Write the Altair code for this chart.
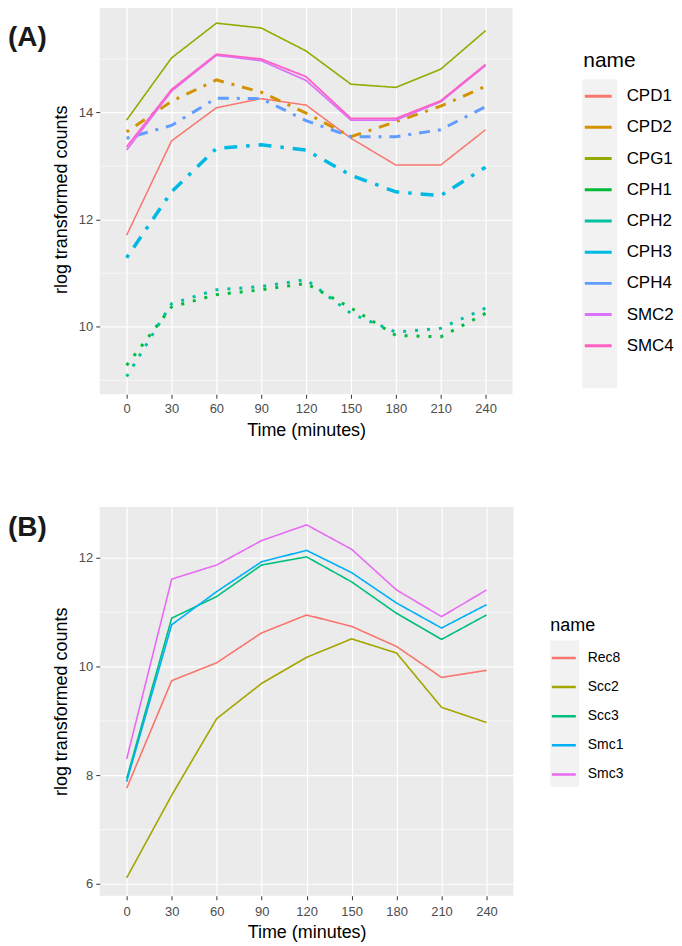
import altair as alt
import pandas as pd

# ---------------- data ----------------
times = [0, 30, 60, 90, 120, 150, 180, 210, 240]

names_a = ["CPD1", "CPD2", "CPG1", "CPH1", "CPH2", "CPH3", "CPH4", "SMC2", "SMC4"]
CPD1 = [11.71, 13.47, 14.09, 14.26, 14.14, 13.52, 13.02, 13.02, 13.68]
CPD2 = [13.64, 14.21, 14.61, 14.38, 13.99, 13.55, 13.83, 14.12, 14.49]
CPG1 = [13.86, 15.02, 15.67, 15.58, 15.15, 14.53, 14.47, 14.81, 15.53]
CPH1 = [9.28, 10.37, 10.60, 10.69, 10.81, 10.35, 9.84, 9.81, 10.25]
CPH2 = [9.07, 10.43, 10.69, 10.75, 10.88, 10.25, 9.90, 9.97, 10.35]
CPH3 = [11.29, 12.52, 13.33, 13.40, 13.30, 12.83, 12.52, 12.45, 12.98]
CPH4 = [13.52, 13.76, 14.27, 14.26, 13.85, 13.55, 13.55, 13.68, 14.11]
SMC2 = [13.30, 14.40, 15.07, 14.97, 14.60, 13.86, 13.86, 14.20, 14.88]
SMC4 = [13.36, 14.43, 15.09, 15.00, 14.67, 13.89, 13.89, 14.22, 14.90]
values_a = [CPD1, CPD2, CPG1, CPH1, CPH2, CPH3, CPH4, SMC2, SMC4]
colors_a = ["#F8766D", "#D39200", "#93AA00", "#00BA38", "#00C19F",
            "#00B9E3", "#619CFF", "#DB72FB", "#FF61C3"]
dash_a = [[1, 0], [3, 8, 11, 8], [1, 0], [3, 9], [3, 9],
          [3.5, 9, 13, 9], [3, 8, 11, 8], [1, 0], [1, 0]]
width_a = [1.5, 3, 1.6, 3, 3, 3.5, 3, 1.8, 1.8]

names_b = ["Rec8", "Scc2", "Scc3", "Smc1", "Smc3"]
Rec8 = [7.76, 9.74, 10.07, 10.62, 10.95, 10.74, 10.37, 9.80, 9.93]
Scc2 = [6.11, 7.63, 9.04, 9.69, 10.17, 10.51, 10.25, 9.25, 8.97]
Scc3 = [7.94, 10.89, 11.29, 11.87, 12.02, 11.56, 10.98, 10.50, 10.95]
Smc1 = [7.88, 10.77, 11.38, 11.93, 12.14, 11.73, 11.17, 10.71, 11.14]
Smc3 = [8.30, 11.61, 11.87, 12.32, 12.61, 12.16, 11.41, 10.92, 11.41]
values_b = [Rec8, Scc2, Scc3, Smc1, Smc3]
colors_b = ["#F8766D", "#A3A500", "#00BF7D", "#00B0F6", "#E76BF3"]
dash_b = [[1, 0]] * 5
width_b = [1.6] * 5

y_major_a = [10, 12, 14]
y_minor_a = [9, 11, 13, 15]
y_major_b = [6, 8, 10, 12]
y_minor_b = [7, 9, 11]

FONT = "Liberation Sans"


def long_df(names, values):
    rows = []
    for n, vals in zip(names, values):
        for t, v in zip(times, vals):
            rows.append({"name": n, "time": t, "value": v})
    return pd.DataFrame(rows)


def panel(names, values, colors, dashes, widths, ydom, ymajor, yminor,
          label, label_y, legend_kw, strip, w, h, xlabpad, xtitlepad):
    df = long_df(names, values)
    xenc = alt.X("time:Q",
                 scale=alt.Scale(domain=[-18, 258], nice=False, zero=False),
                 axis=alt.Axis(values=times, title="Time (minutes)", grid=True,
                               labelPadding=xlabpad, titlePadding=xtitlepad))
    yenc = alt.Y("value:Q",
                 scale=alt.Scale(domain=ydom, nice=False, zero=False),
                 axis=alt.Axis(values=ymajor, title="rlog transformed counts",
                               grid=True, format="d", titlePadding=8,
                               labelPadding=3))
    cenc = alt.Color("name:N",
                     scale=alt.Scale(domain=names, range=colors),
                     legend=alt.Legend(**legend_kw))
    minor = alt.Chart(pd.DataFrame({"value": yminor})).mark_rule(
        color="white", strokeWidth=0.6).encode(y=yenc)
    one = pd.DataFrame({"label": [label]})
    keybg = alt.Chart(one).mark_rect(color="#F2F2F2").encode(
        x=alt.value(strip[0]), x2=alt.value(strip[1]),
        y=alt.value(strip[2]), y2=alt.value(strip[3]))
    layers = [minor, keybg]
    for n, d, sw in zip(names, dashes, widths):
        layers.append(
            alt.Chart(df).transform_filter(alt.datum.name == n)
            .mark_line(strokeDash=d, strokeWidth=sw)
            .encode(x=xenc, y=yenc, color=cenc))
    txt = alt.Chart(one).mark_text(
        align="left", baseline="middle", fontSize=28, fontWeight="bold",
        font=FONT, color="#1a1a1a").encode(
        text="label:N", x=alt.value(-92), y=alt.value(label_y))
    layers.append(txt)
    return alt.layer(*layers).properties(width=w, height=h)


legend_a = dict(orient="none", legendX=485, legendY=46, title="name",
                titleFontSize=21, titleFontWeight="normal", titleColor="black",
                labelFontSize=17, labelColor="black", symbolType="stroke",
                symbolSize=729, symbolStrokeWidth=3, symbolDash=[1, 0],
                rowPadding=8.3, labelOffset=13.5, titlePadding=10)
legend_b = dict(orient="none", legendX=452, legendY=110, title="name",
                titleFontSize=18, titleFontWeight="normal", titleColor="black",
                labelFontSize=14, labelColor="black", symbolType="stroke",
                symbolSize=576, symbolStrokeWidth=2.5, symbolDash=[1, 0],
                rowPadding=8.2, labelOffset=10.5, titlePadding=10)

chart_a = panel(names_a, values_a, colors_a, dash_a, width_a,
                [8.74, 16.02], y_major_a, y_minor_a, "(A)", 34, legend_a,
                (484, 519, 75, 385), 414, 391, 4, 6)
chart_b = panel(names_b, values_b, colors_b, dash_b, width_b,
                [5.78, 12.94], y_major_b, y_minor_b, "(B)", 21, legend_b,
                (452, 481, 134, 281), 415, 390, 6, 5)

chart = alt.vconcat(chart_a, chart_b, spacing=68).resolve_scale(
    color="independent", x="independent", y="independent"
).resolve_legend(color="independent").properties(
    padding={"left": 0, "top": -5, "right": 0, "bottom": 0}
).configure_view(
    fill="#EBEBEB", strokeWidth=0
).configure_axis(
    labelFont=FONT, labelFontSize=13, labelColor="#4D4D4D",
    tickColor="#333333", tickSize=4, tickWidth=1, domain=False,
    titleFont=FONT, titleFontSize=18, titleFontWeight="normal",
    titleColor="black", gridColor="white", gridWidth=1.2
).configure_legend(
    labelFont=FONT, titleFont=FONT
).configure_text(font=FONT)

chart.save("out.html", embed_options={"renderer": "svg", "actions": False})
